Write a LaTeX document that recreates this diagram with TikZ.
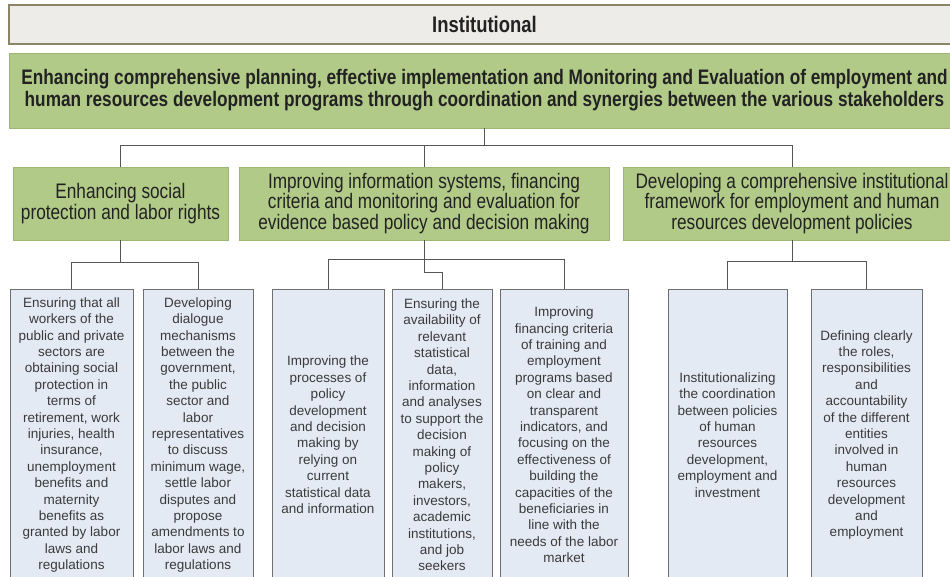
\documentclass[tikz,border=0pt]{standalone}
\usepackage{fontspec}
\setmainfont{Liberation Sans}
\newfontfamily\narrowfont[FakeStretch=0.82]{Liberation Sans}
\usetikzlibrary{positioning}
\definecolor{goalgreen}{HTML}{B2CA88}
\definecolor{greenedge}{HTML}{9CB673}
\definecolor{headfill}{HTML}{EDECE9}
\definecolor{headedge}{HTML}{8C8466}
\definecolor{actionblue}{HTML}{E4EAF4}
\definecolor{boxedge}{HTML}{6F6F6F}
\definecolor{linegray}{HTML}{555555}
\definecolor{textdark}{HTML}{222222}
\definecolor{textgray}{HTML}{3A3A3A}

\begin{document}
\begin{tikzpicture}[x=1pt,y=1pt,
  header/.style={draw=headedge,fill=headfill,line width=1.2pt,inner sep=0pt,text=textdark,
    font=\narrowfont\bfseries\fontsize{22.5}{24}\selectfont},
  goal/.style={draw=greenedge,fill=goalgreen,line width=0.8pt,inner sep=0pt,align=center,text=textdark,
    font=\narrowfont\fontsize{21}{20.5}\selectfont},
  action/.style={draw=boxedge,fill=actionblue,line width=0.9pt,inner sep=0pt,anchor=north,
    minimum height=291pt,align=center,text=textgray,font=\fontsize{13.5}{16.4}\selectfont},
  link/.style={draw=linegray,line width=1pt}]
\clip (0,0) rectangle (950,-577);
\fill[white] (0,0) rectangle (950,-577);

% top rows
\node[header,minimum width=951pt,minimum height=39pt] (inst) at (484.5,-24.5) {Institutional};
\node[goal,minimum width=951pt,minimum height=75pt,font=\narrowfont\bfseries\fontsize{21}{22}\selectfont] (plan) at (484.5,-90.5)
 {Enhancing comprehensive planning, effective implementation and Monitoring and Evaluation of employment and\\
  human resources development programs through coordination and synergies between the various stakeholders};

% objectives
\node[goal,minimum width=215pt,minimum height=73pt] (social) at (120.5,-203.5)
 {Enhancing social\\ protection and labor rights};
\node[goal,minimum width=370pt,minimum height=73pt] (info) at (424,-203.5)
 {Improving information systems, financing\\ criteria and monitoring and evaluation for\\ evidence based policy and decision making};
\node[goal,minimum width=338pt,minimum height=73pt] (frame) at (792,-203.5)
 {Developing a comprehensive institutional\\ framework for employment and human\\ resources development policies};

% actions
\node[action,minimum width=123pt] (ensure) at (71.5,-289)
 {Ensuring that all\\ workers of the\\ public and private\\ sectors are\\ obtaining social\\ protection in\\ terms of\\ retirement, work\\ injuries, health\\ insurance,\\ unemployment\\ benefits and\\ maternity\\ benefits as\\ granted by labor\\ laws and\\ regulations};
\node[action,minimum width=110pt] (dialog) at (198,-289)
 {Developing\\ dialogue\\ mechanisms\\ between the\\ government,\\ the public\\ sector and\\ labor\\ representatives\\ to discuss\\ minimum wage,\\ settle labor\\ disputes and\\ propose\\ amendments to\\ labor laws and\\ regulations};
\node[action,minimum width=112pt] (policy) at (328,-289)
 {Improving the\\ processes of\\ policy\\ development\\ and decision\\ making by\\ relying on\\ current\\ statistical data\\ and information};
\node[action,minimum width=100pt] (avail) at (442,-289)
 {Ensuring the\\ availability of\\ relevant\\ statistical\\ data,\\ information\\ and analyses\\ to support the\\ decision\\ making of\\ policy\\ makers,\\ investors,\\ academic\\ institutions,\\ and job\\ seekers};
\node[action,minimum width=128pt] (finance) at (564,-289)
 {Improving\\ financing criteria\\ of training and\\ employment\\ programs based\\ on clear and\\ transparent\\ indicators, and\\ focusing on the\\ effectiveness of\\ building the\\ capacities of the\\ beneficiaries in\\ line with the\\ needs of the labor\\ market};
\node[action,minimum width=119pt] (coord) at (727.5,-289)
 {Institutionalizing\\ the coordination\\ between policies\\ of human\\ resources\\ development,\\ employment and\\ investment};
\node[action,minimum width=111pt] (roles) at (866.5,-289)
 {Defining clearly\\ the roles,\\ responsibilities\\ and\\ accountability\\ of the different\\ entities\\ involved in\\ human\\ resources\\ development\\ and\\ employment};

% connectors
\foreach \g in {social,info,frame}
  \draw[link] (plan.south) -- ++(0,-17) -| (\g.north);
\foreach \a in {ensure,dialog}
  \draw[link] (social.south) -- ++(0,-22) -| (\a.north);
\draw[link] (policy.north) -- ++(0,29) -| (finance.north);
\draw[link] (info.south) -- ++(0,-32) -| (avail.north);
\foreach \a in {coord,roles}
  \draw[link] (frame.south) -- ++(0,-21) -| (\a.north);
\end{tikzpicture}
\end{document}
